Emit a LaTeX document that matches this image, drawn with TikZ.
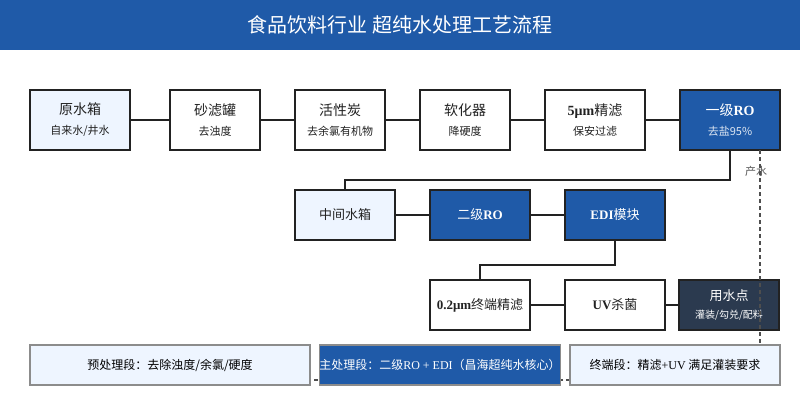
\documentclass[tikz,border=0pt]{standalone}
\usepackage{fontspec}
\setmainfont{Liberation Serif}
\newfontfamily\cjk{Noto Sans CJK SC}
\usepackage{tikz}
\usetikzlibrary{positioning,calc}
\usepackage{xcolor}
\definecolor{mainblue}{HTML}{1F5AA8}
\definecolor{navy}{HTML}{2B3A4F}
\definecolor{paleblue}{HTML}{EEF5FF}
\definecolor{edge}{HTML}{222222}
\newcommand{\lat}[1]{{\rmfamily\bfseries #1}}
\newcommand{\subline}[1]{{\fontsize{11}{13}\selectfont #1}}

\begin{document}
\begin{tikzpicture}[
  x=1pt, y=-1pt,
  node distance=35pt,
  box/.style={draw=edge, line width=2pt, fill=white, text=edge,
              minimum height=60pt, minimum width=90pt, align=center,
              inner sep=2pt, outer sep=0pt, font=\cjk\fontsize{14}{20}\selectfont},
  wide/.style={minimum width=100pt},
  short/.style={minimum height=50pt, font=\cjk\fontsize{13}{18}\selectfont},
  light/.style={fill=paleblue},
  blue/.style={fill=mainblue, text=white},
  dark/.style={fill=navy, text=white},
  stage/.style={draw=gray!90, line width=1.5pt, minimum height=40pt,
                inner sep=0pt, outer sep=0pt, font=\cjk\fontsize{12}{14}\selectfont},
  link/.style={draw=edge, line width=2pt},
  tapline/.style={draw=edge!80, line width=2pt, dash pattern=on 4pt off 3pt}
]
\useasboundingbox (0,0) rectangle (800,400);
\fill[mainblue] (0,0) rectangle (800,50);
\node[text=white, font=\cjk\fontsize{20}{24}\selectfont] (title) at (400,25)
  {食品饮料行业 超纯水处理工艺流程};

% pretreatment row
\node[box, wide, light] (rawtank) at (80,120) {原水箱\\\subline{自来水/井水}};
\node[box, right=40pt of rawtank] (sand)   {砂滤罐\\\subline{去浊度}};
\node[box, right=of sand]         (carbon) {活性炭\\\subline{去余氯有机物}};
\node[box, right=of carbon]       (soft)   {软化器\\\subline{降硬度}};
\node[box, wide, right=of soft]   (pf5)    {\lat{5μm}精滤\\\subline{保安过滤}};
\node[box, wide, blue, right=of pf5] (ro1) {一级\lat{RO}\\\subline{\color{white!85!mainblue}去盐95\%}};

\draw[link] (rawtank) -- (sand);
\draw[link] (sand)    -- (carbon);
\draw[link] (carbon)  -- (soft);
\draw[link] (soft)    -- (pf5);
\draw[link] (pf5)     -- (ro1);

% main row
\node[box, short, wide, light] (midtank) at (345,215) {中间水箱};
\node[box, short, wide, blue, right=of midtank] (ro2) {二级\lat{RO}};
\node[box, short, wide, blue, right=of ro2]     (edi) {\lat{EDI}模块};

\draw[link] (ro1.south) -- ++(0,30) -| (midtank.north);
\draw[link] (midtank) -- (ro2);
\draw[link] (ro2)     -- (edi);

% polishing row
\node[box, short, wide] (fine) at (480,305) {\lat{0.2μm}终端精滤};
\node[box, short, wide, right=of fine] (uv) {\lat{UV}杀菌};
\node[box, short, wide, dark, right=14pt of uv] (usepoint)
  {用水点\\{\fontsize{10}{12}\selectfont 灌装/勾兑/配料}};

\draw[link] (edi.south) -- ++(0,25) -| (fine.north);
\draw[link] (fine) -- (uv);
\draw[link] (uv)   -- (usepoint);

% product water tap
\coordinate (tap)   at ($(ro1.south)+(30,0)$);
\coordinate (floor) at (310,380);
\draw[tapline] (tap) -- (tap |- floor) -- (floor);
\node[text=edge!75, font=\cjk\fontsize{11}{13}\selectfont] (taplabel) at (756,171) {产水};

% stages
\node[stage, fill=paleblue, minimum width=280pt] (pre) at (170,365)
  {预处理段：去除浊度/余氯/硬度};
\node[stage, fill=mainblue, text=white, minimum width=240pt] (core) at (440,365)
  {主处理段：二级{\rmfamily RO + EDI}（昌海超纯水核心）};
\node[stage, fill=paleblue, minimum width=210pt] (post) at (675,365)
  {终端段：精滤{\rmfamily +UV} 满足灌装要求};
\end{tikzpicture}
\end{document}
